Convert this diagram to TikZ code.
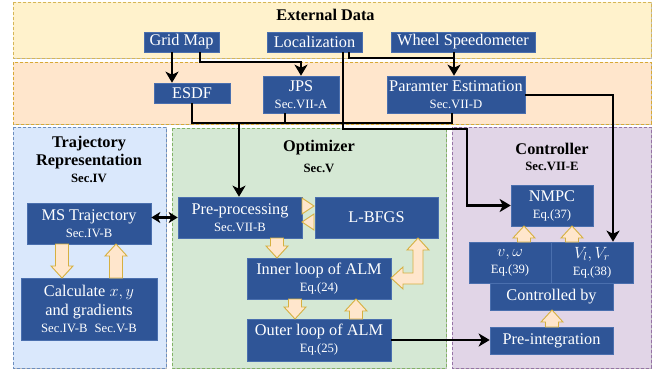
\documentclass[tikz,border=0pt]{standalone}
\usepackage{fontspec}
\setmainfont{Liberation Serif}
\usepackage{fix-cm}
\usetikzlibrary{arrows.meta,shadows}
\definecolor{boxblue}{HTML}{2F5597}
\definecolor{boxedge}{HTML}{4A6FAE}
\definecolor{extfill}{HTML}{FFF2CC}
\definecolor{extdraw}{HTML}{D6B656}
\definecolor{orfill}{HTML}{FFE6CC}
\definecolor{ordraw}{HTML}{D7A935}
\definecolor{trfill}{HTML}{DAE8FC}
\definecolor{trdraw}{HTML}{6C8EBF}
\definecolor{opfill}{HTML}{D5E8D4}
\definecolor{opdraw}{HTML}{82B366}
\definecolor{ctfill}{HTML}{E1D5E7}
\definecolor{ctdraw}{HTML}{9673A6}
\definecolor{arrfill}{HTML}{FFE6CC}
\definecolor{arrdraw}{HTML}{D6B040}
\newcommand{\mainf}{\fontsize{16.3}{17}\selectfont}
\newcommand{\subf}{\fontsize{12.7}{14}\selectfont}
\tikzset{
 box/.style={fill=boxblue, draw=boxedge, line width=0.6pt, text=white, inner sep=0.5pt,
   align=center, font=\mainf,
   drop shadow={shadow xshift=1.3pt, shadow yshift=-1.3pt, opacity=0.35, fill=black}},
 conn/.style={line width=2.5pt, -{Stealth[length=11pt,width=13pt,inset=3pt]}},
 dconn/.style={line width=2.5pt, {Stealth[length=9pt,width=11pt,inset=2.5pt]}-{Stealth[length=9pt,width=11pt,inset=2.5pt]}},
 link/.style={line width=2.5pt},
 blockarr/.style={fill=arrfill, draw=arrdraw, line width=0.9pt, line join=miter},
 panel/.style={dash pattern=on 3pt off 2pt, line width=0.9pt,
   drop shadow={shadow xshift=1pt, shadow yshift=-1pt, opacity=0.25, fill=black}},
 title/.style={font=\bfseries\mainf, anchor=base, inner sep=0},
 subtitle/.style={font=\bfseries\subf, anchor=base, inner sep=0},
 barr/.pic={\filldraw[blockarr] (-6.5,0) -- (-6.5,#1-12) -- (-11,#1-12) -- (0,#1)
   -- (11,#1-12) -- (6.5,#1-12) -- (6.5,0) -- cycle;}
}
\begin{document}
\begin{tikzpicture}[x=1pt,y=-1pt]
\useasboundingbox[fill=white] (0,0) rectangle (672,372);
% bands and panels
\draw[panel, fill=extfill, draw=extdraw] (13,2) rectangle (651,58);
\draw[panel, fill=orfill, draw=ordraw] (13,62) rectangle (651,124);
\draw[panel, fill=trfill, draw=trdraw] (13,127) rectangle (166,368);
\draw[panel, fill=opfill, draw=opdraw] (172,128) rectangle (446,368);
\draw[panel, fill=ctfill, draw=ctdraw] (452,127) rectangle (651,368);
% titles
\node[title] (tExt) at (325.5,20) {External Data};
\node[title] (tTr1) at (89,147) {Trajectory};
\node[title] (tTr2) at (89,165) {Representation};
\node[subtitle] (tTr3) at (89,182) {Sec.IV};
\node[title] (tOp1) at (319,151) {Optimizer};
\node[subtitle] (tOp2) at (319,172) {Sec.V};
\node[title] (tCt1) at (552,154) {Controller};
\node[subtitle] (tCt2) at (552,170) {Sec.VII-E};
% boxes
\node[box, minimum width=75pt, minimum height=20pt] (grid) at (181.5,42) {Grid Map};
\node[box, minimum width=95pt, minimum height=20pt] (loc) at (314.5,42) {Localization};
\node[box, minimum width=144pt, minimum height=20pt] (wheel) at (463,42) {Wheel Speedometer};
\node[box, minimum width=76pt, minimum height=20pt] (esdf) at (192,93) {ESDF};
\node[box, minimum width=76pt, minimum height=37pt] (jps) at (301,94.5) {JPS\\{\subf Sec.VII-A}};
\node[box, minimum width=138pt, minimum height=37pt] (param) at (456,94.5) {Paramter Estimation\\{\subf Sec.VII-D}};
\node[box, minimum width=124pt, minimum height=41pt] (ms) at (89,223.5) {MS Trajectory\\{\subf Sec.IV-B}};
\node[box, minimum width=136pt, minimum height=62pt] (calc) at (89,309) {Calculate $x, y$\\[2pt]and gradients\\{\subf Sec.IV-B\hspace{0.55em}Sec.V-B}};
\node[box, minimum width=124pt, minimum height=41pt] (pre) at (240,217.5) {Pre-processing\\{\subf Sec.VII-B}};
\node[box, minimum width=123pt, minimum height=41pt] (lbfgs) at (376.5,217.5) {L-BFGS};
\node[box, minimum width=144pt, minimum height=41pt] (inner) at (319,278.5) {Inner loop of ALM\\{\subf Eq.(24)}};
\node[box, minimum width=144pt, minimum height=42pt] (outer) at (319,340) {Outer loop of ALM\\{\subf Eq.(25)}};
\node[box, minimum width=82pt, minimum height=41pt] (nmpc) at (552,205.5) {NMPC\\{\subf Eq.(37)}};
\node[box, minimum width=82pt, minimum height=41pt] (vw) at (510,262.5) {$v, \omega$\\{\subf Eq.(39)}};
\node[box, minimum width=82pt, minimum height=41pt] (vlr) at (592,262.5) {$V_l, V_r$\\{\subf Eq.(38)}};
\node[box, minimum width=123pt, minimum height=27pt] (ctrl) at (551.5,296.5) {Controlled by};
\node[box, minimum width=123pt, minimum height=27pt] (preint) at (551.5,340.5) {Pre-integration};
% helper coordinates
\coordinate (gx1) at (172,62);
\coordinate (gx2) at (200,62);
\coordinate (px) at (454,58);
\coordinate (lx2) at (349,58);
\coordinate (c1) at (343,129);
\coordinate (c2) at (467,129);
\coordinate (bus) at (192,123);
\coordinate (jx) at (285,123);
\coordinate (bx2) at (452,123);
\coordinate (prex) at (239,123);
\coordinate (vx) at (613,95);
% black connectors
\draw[conn] (grid.south -| gx1) -- (esdf.north -| gx1);
\draw[conn] (grid.south -| gx2) -- (gx2) -| (jps.north);
\draw[conn] (wheel.south -| px) -- (param.north -| px);
\draw[link] (loc.south -| lx2) -- (lx2) -- (px);
\draw[conn] (loc.south -| c1) -- (c1) -- (c2) |- (nmpc.west);
\draw[link] (esdf.south) -- (bus) -- (bx2) -- (param.south -| bx2);
\draw[link] (jps.south -| jx) -- (jx);
\draw[conn] (prex) -- (pre.north -| prex);
\draw[conn] (param.east |- vx) -| (vlr.north -| vx);
\draw[dconn] (ms.east |- pre.west) -- (pre.west);
\draw[conn] (outer.east) -- (outer.east -| preint.west);
% block arrows
\pic at (62,244) {barr=34};
\pic[rotate=180] at (116,278) {barr=34};
\pic at (277,238) {barr=20};
\pic at (295,299) {barr=20};
\pic[rotate=180] at (356,319) {barr=20};
\pic[rotate=180] at (524,242) {barr=16};
\pic[rotate=180] at (572,242) {barr=16};
\pic[rotate=180] at (552,327) {barr=17};
\filldraw[blockarr] (302,198) -- (314,206) -- (302,214) -- cycle;
\filldraw[blockarr] (314,214) -- (302,222) -- (314,230) -- cycle;
\filldraw[blockarr] (418,238) -- (429,250) -- (423,250) -- (423,284) -- (403,284)
  -- (403,289) -- (391,278) -- (403,267) -- (403,273) -- (413,273) -- (413,250)
  -- (407,250) -- cycle;
\end{tikzpicture}
\end{document}
